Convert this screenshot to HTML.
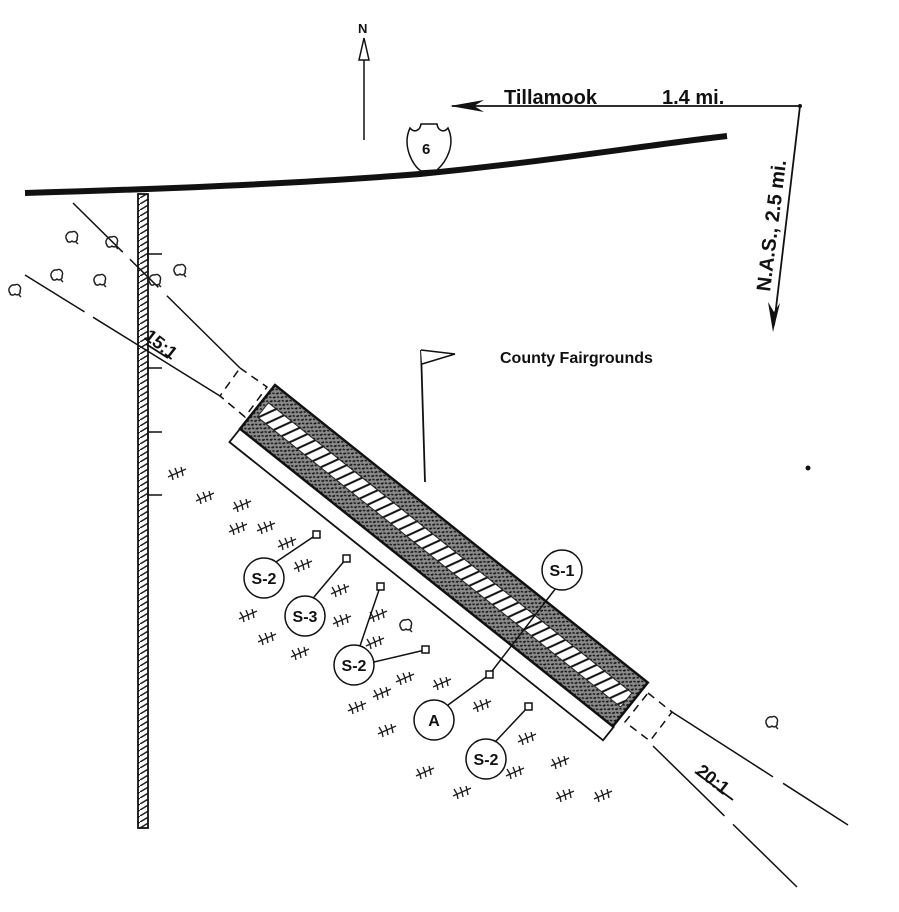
<!DOCTYPE html>
<html><head><meta charset="utf-8"><style>
html,body{margin:0;padding:0;background:#fff}
svg{display:block}
text{font-family:"Liberation Sans",sans-serif;fill:#111}
</style></head><body>
<svg width="899" height="912" viewBox="0 0 899 912" xmlns="http://www.w3.org/2000/svg">
<defs>
<pattern id="stip" width="6" height="5" patternUnits="userSpaceOnUse">
<rect width="6" height="5" fill="#8a8a8a"/>
<path d="M0 1 L2 0 M3 3 L5 2 M1 4 L2 5" stroke="#111" stroke-width="1.5"/>
</pattern>
<pattern id="vh" width="10" height="6" patternUnits="userSpaceOnUse">
<rect width="10" height="6" fill="#fff"/><path d="M0 6 L10 0" stroke="#222" stroke-width="1.5"/>
</pattern>
<pattern id="rh" width="10" height="18" patternUnits="userSpaceOnUse">
<rect width="10" height="18" fill="#fff"/><path d="M-3 18 L6 0 M7 18 L16 0" stroke="#111" stroke-width="2"/>
</pattern>
<g id="tr" stroke="#222" stroke-width="1.4" fill="none">
<path d="M-9 4 L9 -4 M-5 2 L-8 -3 M-5 2 L-4 7 M0 0 L-2 -5 M0 0 L1 5 M5 -2 L4 -6 M5 -2 L6 3"/>
</g>
<g id="bu" stroke="#222" stroke-width="1.5" fill="none">
<path d="M-5 3 C-8 -1 -4 -6 0 -5 C3 -7 7 -3 5 1 C6 4 2 6 0 4 C-2 6 -5 5 -5 3 Z M4 5 L6 7"/>
</g>
</defs>

<!-- North arrow -->
<text x="358" y="33" font-size="13" font-weight="bold">N</text>
<line x1="364" y1="60" x2="364" y2="140" stroke="#111" stroke-width="1.5"/>
<path d="M364 38 L359 60 L369 60 Z" fill="#fff" stroke="#111" stroke-width="1.5"/>

<!-- Tillamook arrow -->
<line x1="452" y1="106" x2="800" y2="106" stroke="#111" stroke-width="1.8"/>
<path d="M450 106 L484 100 L474 106 L484 112 Z" fill="#111"/>
<text x="504" y="104" font-size="20" font-weight="bold">Tillamook</text>
<text x="662" y="104" font-size="20" font-weight="bold">1.4 mi.</text>
<circle cx="800" cy="106" r="2" fill="#111"/>
<line x1="800" y1="106" x2="774" y2="325" stroke="#111" stroke-width="1.8"/>
<path d="M773 332 L768 302 L774 312 L780 303 Z" fill="#111"/>
<text x="0" y="0" font-size="20" font-weight="bold" transform="translate(770,292) rotate(-83)">N.A.S., 2.5 mi.</text>

<!-- Highway -->
<path d="M25 193 C200 188 320 182 420 174 C560 160 640 146 727 136" stroke="#111" stroke-width="6" fill="none"/>
<path d="M410 128 C402 145 412 165 421 171 L437 170 C446 162 456 145 448 128 C444 133 438 131 437 124 L421 124 C420 131 414 133 410 128 Z" fill="#fff" stroke="#111" stroke-width="1.5"/>
<text x="422" y="154" font-size="15" font-weight="bold">6</text>

<!-- vertical road -->
<rect x="138" y="194" width="10" height="634" fill="url(#vh)" stroke="#111" stroke-width="1.8"/>
<g stroke="#111" stroke-width="1.5">
<path d="M148 254 H162 M148 247 V261"/>
<path d="M148 368 H162 M148 361 V375"/>
<path d="M148 432 H162 M148 425 V439"/>
<path d="M148 495 H162 M148 488 V502"/>
</g>

<!-- approach lines -->
<g stroke="#111" stroke-width="1.5" fill="none">
<path d="M73 203 L240 368" stroke-dasharray="70 10 40 12 200"/>
<path d="M25 275 L220 396" stroke-dasharray="70 10 200"/>
<path d="M240 368 L267 387 L245 417 L220 396 Z" stroke-dasharray="8 6"/>
<path d="M672 712 L848 825" stroke-dasharray="120 12 200"/>
<path d="M653 746 L797 887" stroke-dasharray="100 12 200"/>
<path d="M648 693 L672 712 L650 741 L625 722 Z" stroke-dasharray="8 6"/>
</g>
<text font-size="18" font-weight="bold" transform="translate(143,338) rotate(38)">15:1</text>
<line x1="146" y1="344" x2="168" y2="358" stroke="#111" stroke-width="1.8"/>
<text font-size="18" font-weight="bold" transform="translate(695,773) rotate(38)">20:1</text>
<line x1="695" y1="772" x2="733" y2="800" stroke="#111" stroke-width="1.8"/>

<!-- runway -->
<g transform="translate(275,385) rotate(38.6)">
<rect x="0" y="56" width="478" height="17" fill="#fff" stroke="#111" stroke-width="1.8"/>
<rect x="0" y="0" width="477" height="56" fill="url(#stip)" stroke="#111" stroke-width="2.5"/>
<rect x="6" y="18" width="465" height="18" fill="url(#rh)" stroke="#222" stroke-width="1"/>
</g>

<!-- flag -->
<line x1="421" y1="350" x2="425" y2="482" stroke="#111" stroke-width="1.8"/>
<path d="M421 350 L455 354 L422 364" fill="#fff" stroke="#111" stroke-width="1.5"/>
<text x="500" y="363" font-size="16" font-weight="bold">County  Fairgrounds</text>
<circle cx="808" cy="468" r="2.5" fill="#111"/>

<!-- bushes -->
<use href="#bu" x="72" y="237"/><use href="#bu" x="112" y="242"/><use href="#bu" x="180" y="270"/>
<use href="#bu" x="57" y="275"/><use href="#bu" x="100" y="280"/><use href="#bu" x="15" y="290"/>
<use href="#bu" x="155" y="280"/><use href="#bu" x="772" y="722"/><use href="#bu" x="406" y="625"/>

<!-- trees -->
<g>
<use href="#tr" x="177" y="473"/><use href="#tr" x="205" y="497"/><use href="#tr" x="242" y="505"/>
<use href="#tr" x="238" y="528"/><use href="#tr" x="266" y="527"/><use href="#tr" x="287" y="543"/>
<use href="#tr" x="303" y="565"/><use href="#tr" x="340" y="590"/><use href="#tr" x="248" y="615"/>
<use href="#tr" x="342" y="620"/><use href="#tr" x="267" y="638"/><use href="#tr" x="378" y="615"/>
<use href="#tr" x="375" y="642"/><use href="#tr" x="300" y="653"/><use href="#tr" x="405" y="678"/>
<use href="#tr" x="382" y="693"/><use href="#tr" x="442" y="683"/><use href="#tr" x="357" y="707"/>
<use href="#tr" x="482" y="705"/><use href="#tr" x="387" y="730"/><use href="#tr" x="527" y="738"/>
<use href="#tr" x="425" y="772"/><use href="#tr" x="560" y="762"/><use href="#tr" x="515" y="772"/>
<use href="#tr" x="462" y="792"/><use href="#tr" x="565" y="795"/><use href="#tr" x="603" y="795"/>
</g>

<!-- labels -->
<g stroke="#111" stroke-width="1.5" fill="none">
<path d="M276 562 L316 535"/><rect x="313" y="531" width="7" height="7" fill="#fff"/>
<path d="M314 597 L346 559"/><rect x="343" y="555" width="7" height="7" fill="#fff"/>
<path d="M360 646 L380 587"/><rect x="377" y="583" width="7" height="7" fill="#fff"/>
<path d="M374 662 L425 650"/><rect x="422" y="646" width="7" height="7" fill="#fff"/>
<path d="M448 705 L489 675"/><path d="M556 588 L489 675"/><rect x="486" y="671" width="7" height="7" fill="#fff"/>
<path d="M496 741 L528 707"/><rect x="525" y="703" width="7" height="7" fill="#fff"/>
<circle cx="264" cy="578" r="20" fill="#fff"/>
<circle cx="305" cy="616" r="20" fill="#fff"/>
<circle cx="354" cy="665" r="20" fill="#fff"/>
<circle cx="434" cy="720" r="20" fill="#fff"/>
<circle cx="486" cy="759" r="20" fill="#fff"/>
<circle cx="562" cy="570" r="20" fill="#fff"/>
</g>
<g font-size="16" text-anchor="middle" font-weight="bold">
<text x="264" y="584">S-2</text>
<text x="305" y="622">S-3</text>
<text x="354" y="671">S-2</text>
<text x="434" y="726">A</text>
<text x="486" y="765">S-2</text>
<text x="562" y="576">S-1</text>
</g>
</svg>
</body></html>
